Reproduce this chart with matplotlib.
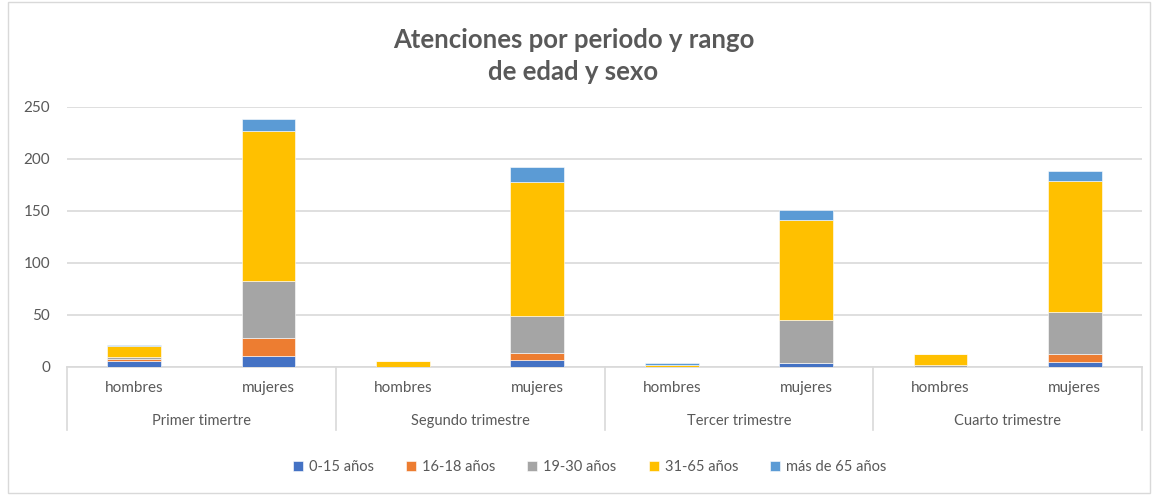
import matplotlib
matplotlib.use("Agg")
import matplotlib.pyplot as plt
import numpy as np
from matplotlib.patches import Rectangle

groups = ["Primer timertre", "Segundo trimestre", "Tercer trimestre", "Cuarto trimestre"]
sexes = ["hombres", "mujeres"]
series_names = ["0-15 años", "16-18 años", "19-30 años", "31-65 años", "más de 65 años"]
colors = ["#4472C4", "#ED7D31", "#A5A5A5", "#FFC000", "#5B9BD5"]

# order: Primer H, Primer M, Segundo H, Segundo M, Tercer H, Tercer M, Cuarto H, Cuarto M
s0_15 = [5, 10, 0, 6, 0, 3, 0, 4]
s16_18 = [2, 18, 0, 7, 0, 0, 0, 8]
s19_30 = [2, 54, 0, 36, 0, 42, 2, 41]
s31_65 = [11, 145, 5, 129, 2, 96, 10, 126]
s65 = [1, 11, 0, 14, 1, 10, 0, 9]
series = [s0_15, s16_18, s19_30, s31_65, s65]

plt.rcParams['font.family'] = ['Lato', 'DejaVu Sans']
txt = "#595959"
grid = "#D9D9D9"

fig = plt.figure(figsize=(11.56, 4.95), dpi=100)
ax = fig.add_axes([67/1156, 1-366.6/495, (1142-67)/1156, (366.6-107)/495])

n = len(s0_15)
x = np.arange(n) + 0.5
bottom = np.zeros(n)
for vals, c, name in zip(series, colors, series_names):
    ax.bar(x, vals, width=0.4, bottom=bottom, color=c, edgecolor="white",
           linewidth=0.4, label=name, zorder=3)
    bottom += np.array(vals)

ax.set_xlim(0, n)
ax.set_ylim(0, 250)
ax.set_yticks(range(0, 251, 50))
ax.yaxis.grid(True, color=grid, linewidth=1.2, zorder=0)
ax.tick_params(axis='y', length=0, labelsize=11, labelcolor=txt, pad=12)
ax.set_xticks([])
for s in ["top", "right", "left"]:
    ax.spines[s].set_visible(False)
ax.spines["bottom"].set_color(grid)
ax.spines["bottom"].set_linewidth(1.2)

trans = ax.get_xaxis_transform()
sep_bottom = -(430 - 366.6) / (366.6 - 107)
for gx in range(0, n + 1, 2):
    ax.plot([gx, gx], [0, sep_bottom], transform=trans, color=grid,
            linewidth=1.2, clip_on=False)
row1 = -(388 - 366.6) / (366.6 - 107)
row2 = -(421 - 366.6) / (366.6 - 107)
for i in range(n):
    ax.text(x[i], row1, sexes[i % 2], transform=trans, ha="center", va="center",
            fontsize=11, color=txt)
for g, name in enumerate(groups):
    ax.text(2 * g + 1, row2, name, transform=trans, ha="center", va="center",
            fontsize=10.5, color=txt)

fig.text(0.496, 1 - 40/495, "Atenciones por periodo y rango", ha="center", va="center",
         fontsize=18.5, fontweight="bold", color=txt)
fig.text(0.496, 1 - 72/495, "de edad y sexo", ha="center", va="center",
         fontsize=18.5, fontweight="bold", color=txt)

leg = fig.legend(*ax.get_legend_handles_labels(), loc="center", bbox_to_anchor=(0.51, 1 - 467/495),
                 ncol=5, frameon=False, fontsize=10.5, handlelength=0.7, handleheight=0.7,
                 handletextpad=0.4, columnspacing=2.2)
for t in leg.get_texts():
    t.set_color(txt)

fig.patches.append(Rectangle((8/1156, 2/495), (1150-8)/1156, (493-2)/495,
                             transform=fig.transFigure, fill=False, edgecolor=grid, linewidth=1))

fig.savefig("out.png", dpi=100)
